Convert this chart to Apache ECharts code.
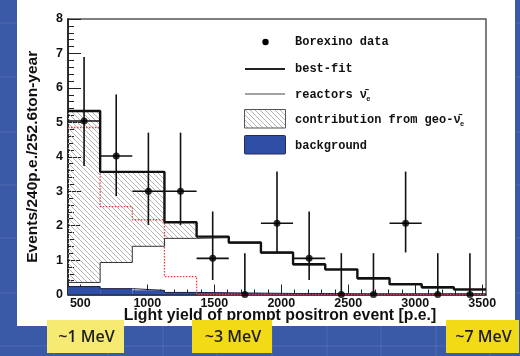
<!DOCTYPE html>
<html>
<head>
<meta charset="utf-8">
<script src="https://cdn.jsdelivr.net/npm/echarts@6/dist/echarts.min.js"></script>
<style>
  html, body { margin: 0; padding: 0; background: #3a5aa8; }
  #chart { width: 520px; height: 356px; }
</style>
</head>
<body>
<div id="chart"></div>
<script>
// Prompt positron light-yield spectrum, 240 p.e. bins
const binEdges = [408, 648, 888, 1128, 1368, 1608, 1848, 2088, 2328, 2568, 2808, 3048, 3288, 3528];

// Borexino data points with asymmetric error bars
const dataValues = [5.04, 4.02, 3.0, 3.0, 1.05, 0, 2.07, 1.05, 0, 0, 2.07, 0, 0];
const errLow     = [3.73, 2.86, 2.02, 2.02, 0.42, 0, 1.22, 0.42, 0, 0, 1.22, 0, 0];
const errHigh    = [6.90, 5.81, 4.70, 4.70, 2.41, 1.20, 3.57, 2.41, 1.20, 1.20, 3.57, 1.20, 1.20];

// Fitted components per bin
const bestFit    = [5.33, 3.56, 3.56, 2.10, 1.68, 1.51, 1.22, 0.88, 0.73, 0.47, 0.30, 0.21, 0.15];
const reactors   = [0.35, 0.93, 1.40, 1.63, 1.65, 1.49, 1.20, 0.86, 0.71, 0.45, 0.28, 0.19, 0.13];
const geoOnly    = [4.85, 2.55, 2.17, 0.52, 0, 0, 0, 0, 0, 0, 0, 0, 0];
const background = [0.23, 0.17, 0.12, 0.06, 0.05, 0.04, 0.03, 0.03, 0.02, 0.02, 0.02, 0.02, 0.02];

// Axis ticks and labels
const xMajorTicks = [500, 1000, 1500, 2000, 2500, 3000, 3500];
const xMinorTicks = [500, 600, 700, 800, 900, 1000, 1100, 1200, 1300, 1400, 1500, 1600, 1700, 1800, 1900,
                     2000, 2100, 2200, 2300, 2400, 2500, 2600, 2700, 2800, 2900, 3000, 3100, 3200, 3300, 3400, 3500];
const energyMarks = ['~1 MeV', '~3 MeV', '~7 MeV'];

const AXIS_FONT = '"Liberation Sans", Arial, sans-serif';
const MONO_FONT = '"Liberation Mono", "DejaVu Sans Mono", monospace';

function makeHatch(step, color) {
  const c = document.createElement('canvas');
  c.width = step; c.height = step;
  const g = c.getContext('2d');
  g.strokeStyle = color;
  g.lineWidth = 1;
  g.beginPath();
  g.moveTo(0, 0); g.lineTo(step, step);
  g.moveTo(-1, step - 1); g.lineTo(1, step + 1);
  g.moveTo(step - 1, -1); g.lineTo(step + 1, 1);
  g.stroke();
  return c;
}
const hatch = { image: makeHatch(5, '#b4b4b4'), repeat: 'repeat' };

function stepPoints(vals) {
  return binEdges.map((e, i) => [e, vals[Math.min(i, vals.length - 1)]]);
}

const binRows = (lowArr, highArr) => reactors.map((_, i) => [
  binEdges[i], binEdges[i + 1],
  lowArr ? lowArr[i] : 0, highArr[i]
]);

const pointRows = dataValues.map((v, i) => [
  (binEdges[i] + binEdges[i + 1]) / 2, v, errLow[i], errHigh[i],
  (binEdges[i + 1] - binEdges[i]) / 2
]);

function bandRender(fill, stroke) {
  return function (params, api) {
    const p0 = api.coord([api.value(0), api.value(3)]);
    const p1 = api.coord([api.value(1), api.value(2)]);
    return {
      type: 'rect',
      shape: { x: p0[0], y: p0[1], width: p1[0] - p0[0], height: p1[1] - p0[1] },
      style: { fill: fill, stroke: stroke || null, lineWidth: 0 }
    };
  };
}

function errorRender(params, api) {
  const x = api.value(0), y = api.value(1), lo = api.value(2), hi = api.value(3), half = api.value(4);
  const pl = api.coord([x, lo]);
  const ph = api.coord([x, hi]);
  const children = [{
    type: 'line',
    shape: { x1: pl[0], y1: pl[1], x2: ph[0], y2: ph[1] },
    style: { stroke: '#111', lineWidth: 1.6 }
  }];
  if (y > 0) {
    const a = api.coord([x - half, y]);
    const b = api.coord([x + half, y]);
    children.push({
      type: 'line',
      shape: { x1: a[0], y1: a[1], x2: b[0], y2: b[1] },
      style: { stroke: '#111', lineWidth: 1.6 }
    });
  }
  return { type: 'group', children: children };
}

// Slide backdrop: white panel, faint grid on the blue, energy markers
const backdrop = [
  { type: 'rect', z: -100, shape: { x: 17, y: 0, width: 498, height: 326 }, style: { fill: '#ffffff' } }
];
[23, 77, 132, 185, 238, 293, 346].forEach(y => {
  backdrop.push({ type: 'line', z: -101, shape: { x1: 0, y1: y, x2: 520, y2: y },
    style: { stroke: 'rgba(255,255,255,0.10)', lineWidth: 1 } });
});
[54, 108, 163, 217, 272, 327, 381, 436, 490].forEach(x => {
  backdrop.push({ type: 'line', z: -101, shape: { x1: x, y1: 326, x2: x, y2: 356 },
    style: { stroke: 'rgba(255,255,255,0.10)', lineWidth: 1 } });
});
const markBoxes = [
  { x: 47, w: 77, fill: '#f6ea72' },
  { x: 192, w: 80, fill: '#f2da16' },
  { x: 446, w: 73, fill: '#f2da16' }
];
markBoxes.forEach((b, i) => {
  backdrop.push({ type: 'rect', z: 50, shape: { x: b.x, y: 320, width: b.w, height: 33 }, style: { fill: b.fill } });
  backdrop.push({ type: 'text', z: 51, x: b.x + b.w / 2 + 1, y: 337,
    style: { text: energyMarks[i], fill: '#1e1e1e', font: '600 16px "Open Sans", sans-serif',
             align: 'center', verticalAlign: 'middle' } });
});

// Legend block
const LX = 245, TX = 295;
const legend = [
  { type: 'circle', z: 60, shape: { cx: 265.5, cy: 42, r: 3.2 }, style: { fill: '#000' } },
  { type: 'line', z: 60, shape: { x1: LX, y1: 69, x2: 285, y2: 69 }, style: { stroke: '#222', lineWidth: 2 } },
  { type: 'line', z: 60, shape: { x1: LX, y1: 94, x2: 285, y2: 94 }, style: { stroke: '#444', lineWidth: 1 } },
  { type: 'rect', z: 60, shape: { x: 244.5, y: 109.5, width: 41, height: 18.5 }, style: { fill: hatch, stroke: '#555', lineWidth: 1 } },
  { type: 'rect', z: 60, shape: { x: 244.5, y: 135.5, width: 41, height: 18.5, r: 1 }, style: { fill: '#2f4fa6', stroke: '#2a2a55', lineWidth: 1 } }
];
const legendFont = 'bold 12px ' + MONO_FONT;
const CH = 7.2;
[
  [42, 'Borexino data'],
  [69, 'best-fit'],
  [95, 'reactors '],
  [120, 'contribution from geo-'],
  [146, 'background']
].forEach(([y, t]) => {
  legend.push({ type: 'text', z: 60, x: TX, y: y,
    style: { text: t, fill: '#111', font: legendFont, verticalAlign: 'middle' } });
});
[[95, 9], [120, 22]].forEach(([y, n]) => {
  legend.push({ type: 'text', z: 60, x: TX + n * CH, y: y,
    style: { text: 'ν\u0304', fill: '#111', font: legendFont, verticalAlign: 'middle' } });
  legend.push({ type: 'text', z: 60, x: TX + n * CH + 6.5, y: y + 4,
    style: { text: 'e', fill: '#111', font: 'bold 7px ' + MONO_FONT, verticalAlign: 'middle' } });
});

const chart = echarts.init(document.getElementById('chart'), null, { renderer: 'canvas' });
chart.setOption({
  backgroundColor: '#3a5aa8',
  animation: false,
  graphic: backdrop.concat(legend),
  grid: {
    left: 68, top: 19, right: 34, bottom: 61.5,
    show: true, borderColor: '#555', borderWidth: 1.5, backgroundColor: 'transparent'
  },
  xAxis: [
    {
      type: 'value', min: binEdges[0], max: binEdges[binEdges.length - 1],
      position: 'bottom',
      name: 'Light yield of prompt positron event [p.e.]',
      nameLocation: 'middle', nameGap: 13, nameMoveOverlap: false,
      nameTextStyle: { color: '#111', fontFamily: AXIS_FONT, fontWeight: 'bold', fontSize: 15.8,
                       padding: [0, 0, 0, 6] },
      axisLine: { show: true, onZero: false, lineStyle: { color: '#111', width: 1.5 } },
      axisTick: { show: true, inside: true, length: 10, customValues: xMajorTicks, lineStyle: { color: '#222', width: 1 } },
      axisLabel: { show: true, customValues: xMajorTicks, margin: 3, color: '#111',
                   formatter: v => String(v),
                   fontFamily: AXIS_FONT, fontWeight: 'bold', fontSize: 12.5 },
      splitLine: { show: false }
    },
    {
      type: 'value', min: binEdges[0], max: binEdges[binEdges.length - 1],
      position: 'bottom', offset: 0,
      axisLine: { show: false },
      axisTick: { show: true, inside: true, length: 5, customValues: xMinorTicks, lineStyle: { color: '#222', width: 1 } },
      axisLabel: { show: false },
      splitLine: { show: false }
    }
  ],
  yAxis: {
    type: 'value', min: 0, max: 8, interval: 1,
    name: 'Events/240p.e./252.6ton-year',
    nameLocation: 'middle', nameGap: 27, nameRotate: 90, nameMoveOverlap: false,
    nameTextStyle: { color: '#111', fontFamily: AXIS_FONT, fontWeight: 'bold', fontSize: 15.5 },
    axisLine: { show: true, onZero: false, lineStyle: { color: '#111', width: 1.5 } },
    axisTick: { show: true, inside: true, length: 13, lineStyle: { color: '#222', width: 1 } },
    minorTick: { show: true, splitNumber: 5, length: 6, lineStyle: { color: '#222', width: 1 } },
    axisLabel: { margin: 5, color: '#111', fontFamily: AXIS_FONT, fontWeight: 'bold', fontSize: 12.5 },
    splitLine: { show: false }
  },
  series: [
    {
      name: 'background fill', type: 'custom', z: 2,
      renderItem: bandRender('#2f4fa6'),
      encode: { x: [0, 1], y: [2, 3] },
      data: binRows(null, background)
    },
    {
      name: 'contribution from geo', type: 'custom', z: 2,
      renderItem: bandRender(hatch),
      encode: { x: [0, 1], y: [2, 3] },
      data: binRows(reactors, bestFit)
    },
    {
      name: 'background', type: 'line', step: 'end', z: 3, symbol: 'none',
      lineStyle: { color: '#1a1a3a', width: 1 },
      data: stepPoints(background)
    },
    {
      name: 'geo only', type: 'line', step: 'end', z: 3, symbol: 'none',
      lineStyle: { color: '#f03a3a', width: 1.3, type: [1.5, 1.5] },
      data: stepPoints(geoOnly)
    },
    {
      name: 'reactors', type: 'line', step: 'end', z: 4, symbol: 'none',
      lineStyle: { color: '#333', width: 1 },
      data: stepPoints(reactors)
    },
    {
      name: 'best-fit', type: 'line', step: 'end', z: 5, symbol: 'none',
      lineStyle: { color: '#111', width: 2.4 },
      data: stepPoints(bestFit)
    },
    {
      name: 'error bars', type: 'custom', z: 6, clip: false,
      renderItem: errorRender,
      encode: { x: 0, y: [1, 2, 3] },
      data: pointRows
    },
    {
      name: 'Borexino data', type: 'scatter', z: 7, clip: false,
      symbol: 'circle', symbolSize: 7,
      itemStyle: { color: '#000' },
      data: pointRows.map(r => [r[0], r[1]])
    }
  ]
});
</script>
</body>
</html>
